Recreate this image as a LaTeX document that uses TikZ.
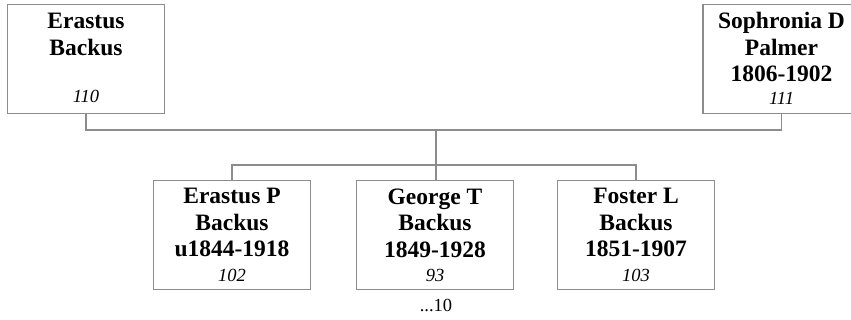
\documentclass[tikz,border=0pt]{standalone}
\usepackage{fontspec}
\setmainfont{Liberation Serif}
\definecolor{linec}{RGB}{140,140,140}
\begin{document}
\begin{tikzpicture}[x=1pt,y=-1pt,
  box/.style={draw=linec, line width=1.4pt, minimum width=157pt, minimum height=109pt, inner sep=0pt},
  nm/.style={font=\fontsize{23.5}{26.5}\selectfont\bfseries, align=center, anchor=north, inner sep=0pt},
  num/.style={font=\fontsize{18.5}{20}\selectfont\itshape, anchor=base, inner sep=0pt},
  conn/.style={draw=linec, line width=1.4pt}]
\useasboundingbox (0,0) rectangle (851,320);
% parents
\node[box] (b1) at (86,59) {};
\node[box] (b2) at (781.5,59) {};
% children
\node[box] (c1) at (232,235) {};
\node[box] (c2) at (435,235) {};
\node[box] (c3) at (636,235) {};
% texts
\node[nm] (t1) at ([yshift=-9.5]b1.north) {Erastus\\Backus};
\node[num] (n1) at ([yshift=12]b1.south) {110};
\node[nm] (t2) at ([yshift=-8.5]b2.north) {Sophronia D\\Palmer\\1806-1902};
\node[num] (n2) at ([yshift=10]b2.south) {111};
\node[nm] (t3) at ([yshift=-8.5]c1.north) {Erastus P\\Backus\\u1844-1918};
\node[num] (n3) at ([yshift=9]c1.south) {102};
\node[nm] (t4) at ([yshift=-8.5]c2.north) {George T\\Backus\\1849-1928};
\node[num] (n4) at ([yshift=9]c2.south) {93};
\node[nm] (t5) at ([yshift=-8.5]c3.north) {Foster L\\Backus\\1851-1907};
\node[num] (n5) at ([yshift=9]c3.south) {103};
\node[font=\fontsize{18.5}{20}\selectfont, anchor=base, inner sep=0pt] (more) at (436,312) {...10};
% connectors
\coordinate (pm) at (436,130);
\coordinate (cm) at (436,165);
\draw[conn] (b1.south) |- (pm) -| (b2.south);
\draw[conn] (pm) -- (pm |- c2.north);
\draw[conn] (c1.north) |- (cm) -| (c3.north);
\end{tikzpicture}
\end{document}
